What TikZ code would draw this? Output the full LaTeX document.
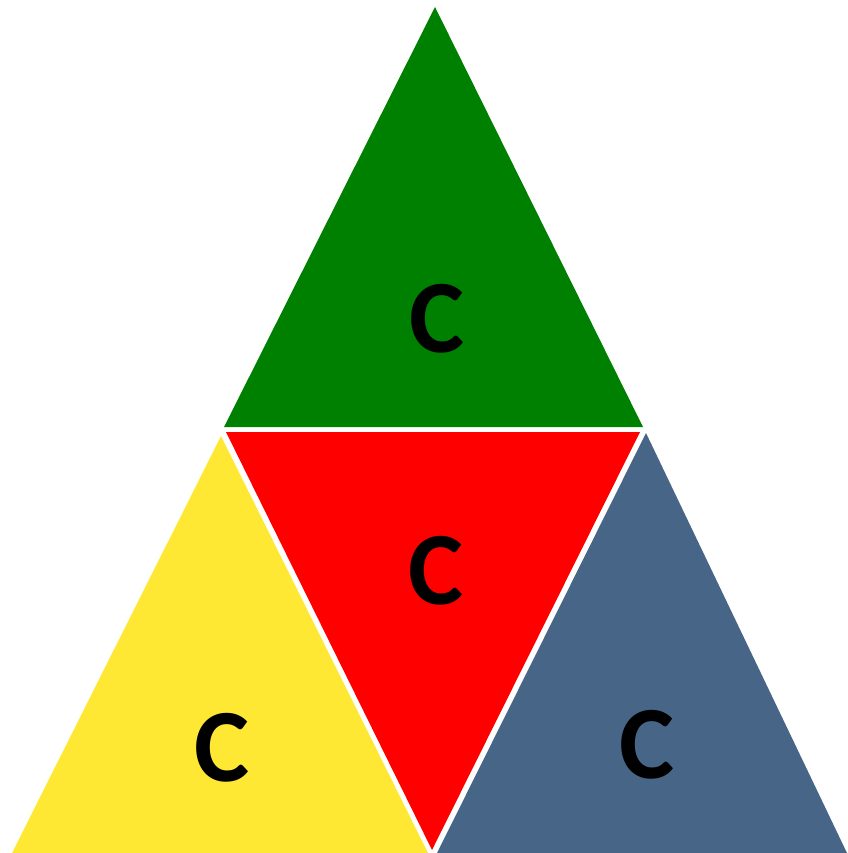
\documentclass[tikz,border=0pt]{standalone}
\usepackage{fontspec}
\newfontfamily\letterfont{Carlito}
\definecolor{topgreen}{RGB}{0,128,0}
\definecolor{midred}{RGB}{255,0,0}
\definecolor{leftyellow}{RGB}{255,232,51}
\definecolor{rightblue}{RGB}{71,102,135}

\begin{document}
\begin{tikzpicture}[x=1pt, y=-1pt, letter/.style={inner sep=0pt, font=\letterfont\bfseries\fontsize{104}{104}\selectfont}]
                \useasboundingbox (0,0) rectangle (847,853);

                \fill[topgreen] (435,7) -- (224,427) -- (643,427) -- cycle;
                \fill[midred] (226,432) -- (640,432) -- (432,850) -- cycle;
                \fill[leftyellow] (221,436) -- (12,853) -- (428,853) -- cycle;
                \fill[rightblue] (646,433) -- (437,853) -- (847,853) -- cycle;

                \node[letter] (ctop) at (437,319) {C};
                \node[letter] (cmid) at (436,571) {C};
                \node[letter] (cleft) at (222,748) {C};
                \node[letter] (cright) at (647,745) {C};

            \end{tikzpicture}
\end{document}
